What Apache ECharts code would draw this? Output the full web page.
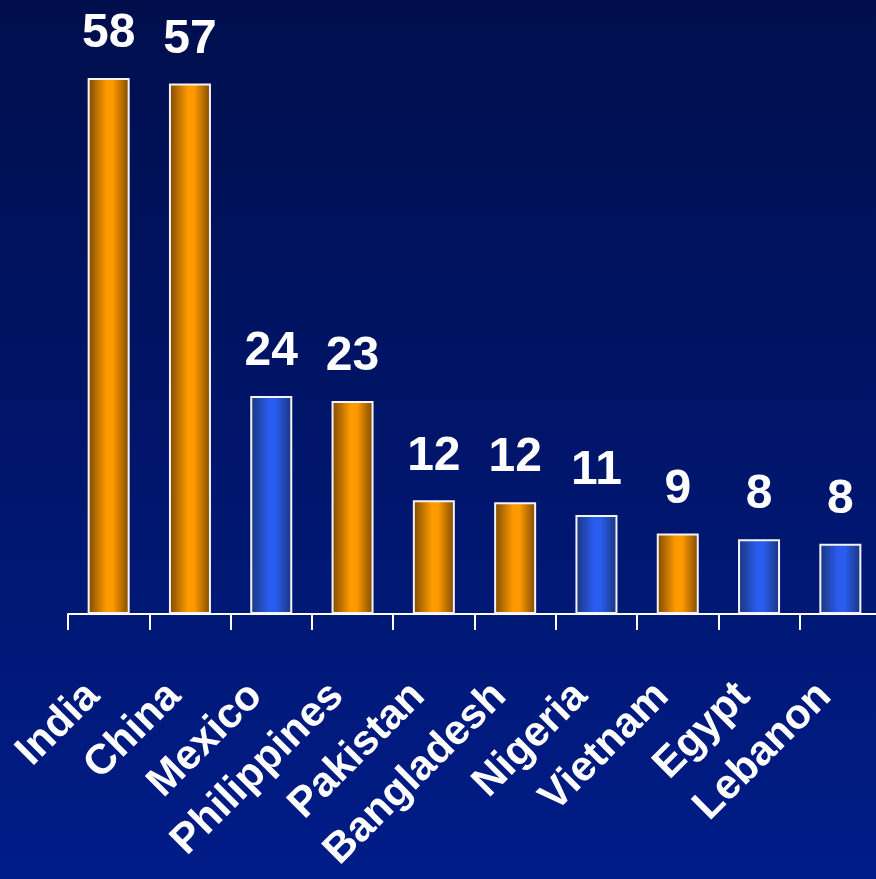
<!DOCTYPE html>
<html>
<head>
<meta charset="utf-8">
<script src="https://cdn.jsdelivr.net/npm/echarts@6/dist/echarts.min.js"></script>
<style>
  html, body { margin: 0; padding: 0; }
  #chart { width: 876px; height: 879px; }
</style>
</head>
<body>
<div id="chart"></div>
<script>
var countries = ['India', 'China', 'Mexico', 'Philippines', 'Pakistan', 'Bangladesh', 'Nigeria', 'Vietnam', 'Egypt', 'Lebanon'];
var values = [58.0, 57.4, 23.6, 23.05, 12.3, 12.1, 10.7, 8.7, 8.1, 7.6];
var groups = ['o', 'o', 'b', 'o', 'o', 'o', 'b', 'o', 'b', 'b'];

(function () {
    var myChart = echarts.init(document.getElementById('chart'));

    function barFill(g) {
        var edge = g === 'o' ? '#7a4800' : '#1a3578';
        var mid = g === 'o' ? '#ff9a00' : '#2a5cf0';
        return new echarts.graphic.LinearGradient(0, 0, 1, 0, [
            { offset: 0, color: edge },
            { offset: 0.45, color: mid },
            { offset: 0.6, color: mid },
            { offset: 1, color: edge }
        ]);
    }

    var option = {
        backgroundColor: new echarts.graphic.LinearGradient(0, 0, 0, 1, [
            { offset: 0, color: '#000e4c' },
            { offset: 1, color: '#001c88' }
        ]),
        grid: {
            left: 68,
            right: -5,
            top: 59.5,
            bottom: 265,
            outerBoundsMode: 'none'
        },
        xAxis: {
            type: 'category',
            data: countries,
            axisLine: { lineStyle: { color: '#ffffff', width: 2 } },
            axisTick: { show: true, length: 16, lineStyle: { color: '#ffffff', width: 2 } },
            axisLabel: {
                rotate: 45,
                interval: 0,
                margin: 60,
                padding: [0, 22, 0, 0],
                color: '#ffffff',
                fontFamily: 'Liberation Sans, Arial, sans-serif',
                fontWeight: 'bold',
                fontSize: 42
            }
        },
        yAxis: {
            type: 'value',
            min: 0,
            max: 60,
            show: false,
            splitLine: { show: false }
        },
        series: [
            {
                type: 'bar',
                barWidth: 42,
                data: values.map(function (v, i) {
                    return {
                        value: v,
                        itemStyle: {
                            color: barFill(groups[i]),
                            borderColor: '#f4f4f8',
                            borderWidth: 2
                        }
                    };
                }),
                label: {
                    show: true,
                    position: 'top',
                    distance: 20,
                    color: '#ffffff',
                    fontFamily: 'Liberation Sans Narrow, Arial Narrow, sans-serif',
                    fontWeight: 'bold',
                    fontSize: 48,
                    formatter: function (p) {
                        return Math.round(p.value);
                    }
                }
            }
        ]
    };

    myChart.setOption(option);
    window.addEventListener('resize', function () {
        myChart.resize();
    });
})();
</script>
</body>
</html>
